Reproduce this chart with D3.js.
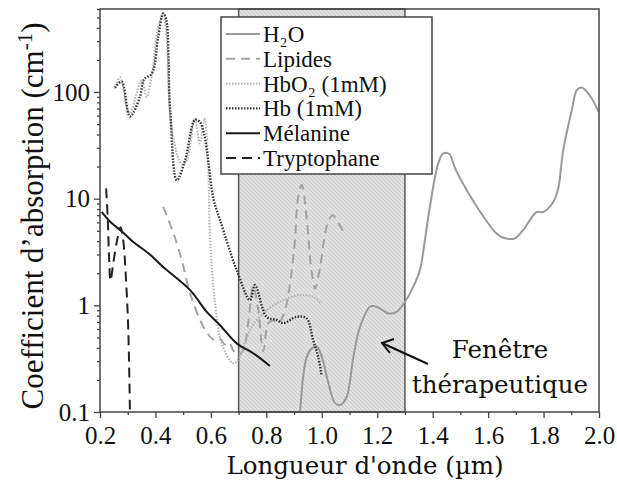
<!DOCTYPE html>
<html><head><meta charset="utf-8">
<script src="https://cdn.jsdelivr.net/npm/d3@7"></script>
<style>body{margin:0;background:#fff}svg{display:block}</style>
</head><body>
<svg id="c" width="617" height="481"></svg>
<script>
// ---- data ----
const xTicks = [0.2,0.4,0.6,0.8,1.0,1.2,1.4,1.6,1.8,2.0];
const yTicks = [0.1,1,10,100];
const yTickLabels = ["0.1","1","10","100"];
const windowRange = [0.7, 1.3];

const h2oWl  = [0.915,0.9215,0.933,0.946,0.964,0.982,1.0,1.024,1.048,1.066,1.09,1.114,1.138,1.174,1.198,1.24,1.27,1.3,1.33,1.354,1.372,1.39,1.42,1.438,1.46,1.481,1.523,1.583,1.631,1.661,1.697,1.727,1.775,1.799,1.835,1.853,1.871,1.902,1.92,1.938,1.974,1.998];
const h2oVal = [0.07,0.1,0.214,0.33,0.395,0.41,0.33,0.186,0.121,0.116,0.139,0.33,0.63,0.97,0.97,0.84,0.87,1.08,1.49,2.14,4.1,8.4,21.4,26.6,26.2,19.2,12.0,6.8,4.7,4.25,4.25,5.1,7.5,7.5,9.3,12.5,28.6,68,104,110,87,65];

const lipWl  = [0.428,0.464,0.495,0.525,0.573,0.603,0.62,0.635,0.65,0.665,0.68,0.695,0.717,0.735,0.753,0.771,0.789,0.807,0.825,0.843,0.867,0.9,0.915,0.928,0.946,0.963,0.976,0.994,1.018,1.039,1.06,1.078];
const lipVal = [8.4,4.8,2.66,1.29,0.63,0.49,0.46,0.48,0.43,0.45,0.38,0.34,0.38,0.7,1.5,0.9,0.37,0.68,0.72,0.68,0.9,3.3,10.4,13.4,6.3,2.1,1.44,2.3,5.5,7.0,5.9,4.9];

const hbo2Wl  = [0.254,0.272,0.306,0.35,0.368,0.387,0.41,0.428,0.44,0.458,0.495,0.513,0.542,0.56,0.577,0.59,0.597,0.615,0.639,0.681,0.705,0.741,0.801,0.861,0.922,0.969,0.999];
const hbo2Val = [108,137,63,129,90,144,408,545,329,47,21,23,55,33,57,22,4.4,1.04,0.44,0.286,0.33,0.59,0.90,1.12,1.25,1.2,1.04];

const hbWl  = [0.254,0.278,0.308,0.344,0.359,0.387,0.41,0.428,0.438,0.453,0.477,0.507,0.543,0.561,0.575,0.591,0.609,0.633,0.693,0.741,0.759,0.801,0.837,0.861,0.909,0.945,0.969,0.987,0.999];
const hbVal = [110,125,59,90,132,149,329,545,489,68,14.9,23,55,52,41,22,10,6.3,2.14,1.12,1.55,0.78,0.73,0.68,0.78,0.755,0.47,0.33,0.22];

const melWl  = [0.206,0.236,0.284,0.319,0.38,0.427,0.525,0.585,0.633,0.693,0.753,0.813];
const melVal = [7.5,6.1,4.8,3.95,3.0,2.3,1.39,0.87,0.65,0.44,0.355,0.27];

const tryWl  = [0.222,0.228,0.233,0.238,0.248,0.262,0.274,0.284,0.294,0.302,0.308];
const tryVal = [12.5,6.5,2.7,1.7,2.5,4.1,5.4,4.0,1.7,0.59,0.1];

const seriesNames = ["H\u2082O","Lipides","HbO\u2082 (1mM)","Hb (1mM)","Mélanine","Tryptophane"];

// ---- layout ----
const svg = d3.select("#c");
const L=100,R=599,T=9,B=412;
const x = d3.scaleLinear().domain([0.2,2.0]).range([L,R]);
const y = d3.scaleLog().domain([0.1,600]).range([B,T]);

const defs = svg.append("defs");
const pat = defs.append("pattern").attr("id","hatch").attr("patternUnits","userSpaceOnUse").attr("width",4).attr("height",4);
pat.append("rect").attr("width",4).attr("height",4).attr("fill","#e6e6e6");
pat.append("path").attr("d","M-1,3 l2,2 M0,0 l4,4 M3,-1 l2,2").attr("stroke","#cbcbcb").attr("stroke-width",1.1);
defs.append("clipPath").attr("id","clip").append("rect").attr("x",L).attr("y",T).attr("width",R-L).attr("height",B-T);

// shaded window
svg.append("rect").attr("x",x(windowRange[0])).attr("y",T).attr("width",x(windowRange[1])-x(windowRange[0])).attr("height",B-T)
  .attr("fill","url(#hatch)").attr("stroke","#555").attr("stroke-width",1.5);

const styles = [
  {wl:h2oWl,val:h2oVal,color:"#9a9a9a",dash:null,w:2},
  {wl:lipWl,val:lipVal,color:"#a3a3a3",dash:"9,6",w:2},
  {wl:hbo2Wl,val:hbo2Val,color:"#b5b5b5",dash:"1.5,1.5",w:2.2},
  {wl:hbWl,val:hbVal,color:"#333",dash:"1.5,1.5",w:2.4},
  {wl:melWl,val:melVal,color:"#1a1a1a",dash:null,w:2},
  {wl:tryWl,val:tryVal,color:"#222",dash:"10,6",w:2}
];
const line = d3.line().x(d=>x(d[0])).y(d=>y(d[1])).curve(d3.curveCatmullRom.alpha(0.5));
const g = svg.append("g").attr("clip-path","url(#clip)");
styles.forEach(s=>{
  const pts = s.wl.map((w,i)=>[w,s.val[i]]);
  g.append("path").attr("d",line(pts)).attr("fill","none").attr("stroke",s.color)
   .attr("stroke-width",s.w).attr("stroke-dasharray",s.dash).attr("stroke-linejoin","round");
});

// axes
const minorY = [];
[0.1,1,10,100].forEach(d=>{for(let k=2;k<=9;k++){const v=d*k; if(v<=600) minorY.push(v);}});
const yAxis = d3.axisLeft(y).tickValues(yTicks).tickFormat((d,i)=>yTickLabels[i]).tickSize(6).tickPadding(4);
const yMinor = d3.axisLeft(y).tickValues(minorY).tickFormat("").tickSize(3);
const xMinorVals = d3.range(0.3,2.0,0.2).map(v=>+v.toFixed(1));
const xAxis = d3.axisBottom(x).tickValues(xTicks).tickFormat(d3.format(".1f")).tickSize(6).tickPadding(8);
const xMinor = d3.axisBottom(x).tickValues(xMinorVals).tickFormat("").tickSize(3);

function styleAxis(sel){
  sel.select(".domain").remove();
  sel.selectAll("line").attr("stroke","#444").attr("stroke-width",1.3);
  sel.selectAll("text").attr("font-family","'Liberation Serif',serif").attr("font-size",25).attr("fill","#111");
}
svg.append("g").attr("transform",`translate(${L},0)`).call(yAxis).call(styleAxis);
svg.append("g").attr("transform",`translate(${L},0)`).call(yMinor).call(styleAxis);
svg.append("g").attr("transform",`translate(0,${B})`).call(xAxis).call(styleAxis);
svg.append("g").attr("transform",`translate(0,${B})`).call(xMinor).call(styleAxis);

// frame
svg.append("rect").attr("x",L).attr("y",T).attr("width",R-L).attr("height",B-T)
  .attr("fill","none").attr("stroke","#444").attr("stroke-width",1.5);

// legend
const lg = svg.append("g");
lg.append("rect").attr("x",221).attr("y",17).attr("width",211).attr("height",157).attr("fill","#fff").attr("stroke","#444").attr("stroke-width",1.5);
styles.forEach((s,i)=>{
  const cy = 34 + i*24.8;
  lg.append("line").attr("x1",226).attr("x2",260).attr("y1",cy).attr("y2",cy)
    .attr("stroke",s.color).attr("stroke-width",s.w).attr("stroke-dasharray",s.dash);
  lg.append("text").attr("x",263).attr("y",cy+8).attr("font-family","'Liberation Serif',serif").attr("font-size",23).attr("fill","#111").text(seriesNames[i]);
});

// axis titles
svg.append("text").attr("x",365).attr("y",474).attr("text-anchor","middle")
  .attr("font-family","'DejaVu Serif',serif").attr("font-size",24.5).attr("fill","#111").text("Longueur d'onde (µm)");
const yt = svg.append("text").attr("transform","translate(43,216) rotate(-90)").attr("text-anchor","middle")
  .attr("font-family","'Liberation Serif',serif").attr("font-size",31).attr("fill","#111");
yt.append("tspan").text("Coefficient d\u2019absorption (cm");
yt.append("tspan").attr("font-size",21).attr("dy",-11).text("-1");
yt.append("tspan").attr("dy",11).text(")");

// annotation
svg.append("text").attr("x",500).attr("y",358).attr("text-anchor","middle").attr("font-family","'DejaVu Serif',serif").attr("font-size",24.5).attr("fill","#111").text("Fenêtre");
svg.append("text").attr("x",500).attr("y",393).attr("text-anchor","middle").attr("font-family","'DejaVu Serif',serif").attr("font-size",24.5).attr("fill","#111").text("thérapeutique");
svg.append("line").attr("x1",428).attr("y1",364).attr("x2",383).attr("y2",343.5).attr("stroke","#111").attr("stroke-width",2);
svg.append("path").attr("d","M394,339 L382,343 L390,353").attr("fill","none").attr("stroke","#111").attr("stroke-width",2);
</script>
</body></html>
